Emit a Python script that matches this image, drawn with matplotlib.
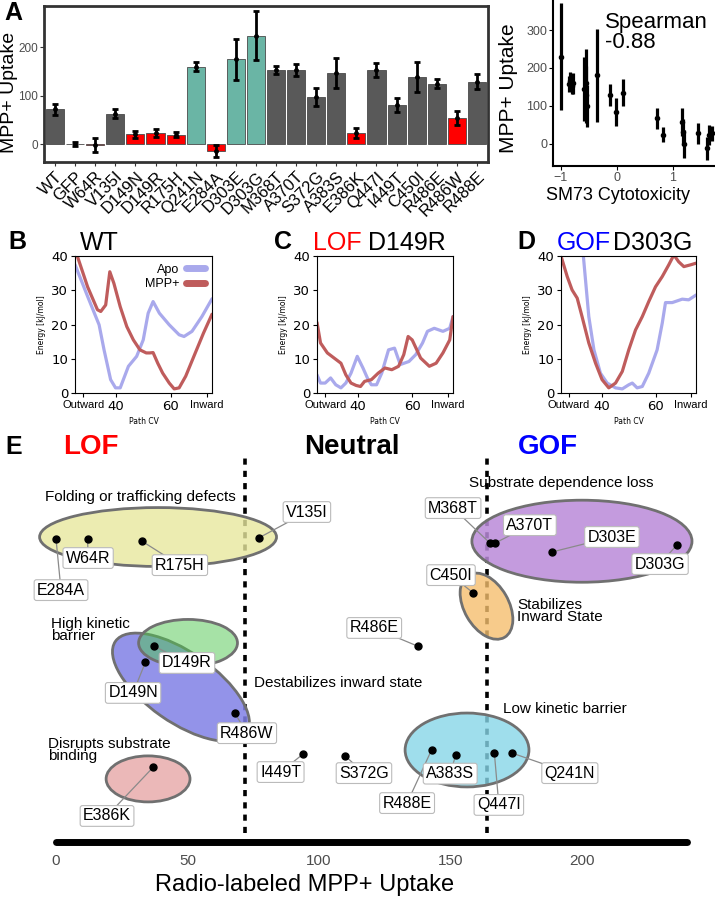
import matplotlib
matplotlib.use('Agg')
import matplotlib.pyplot as plt
from matplotlib.patches import Ellipse
from matplotlib.lines import Line2D
import numpy as np

plt.rcParams['font.family'] = ['Liberation Sans', 'DejaVu Sans']

W, H = 715, 900


def box(l, t, r, b):
    # pixel box -> figure fraction rect
    return [l / W, 1 - b / H, (r - l) / W, (b - t) / H]


# ---------------- panel A data ----------------
mutants = ['WT', 'GFP', 'W64R', 'V135I', 'D149N', 'D149R', 'R175H', 'Q241N',
           'E284A', 'D303E', 'D303G', 'M368T', 'A370T', 'S372G', 'A383S',
           'E386K', 'Q447I', 'I449T', 'C450I', 'R486E', 'R486W', 'R488E']
uptake = [72, 0, -2, 63, 20, 23, 19, 160, -14, 175, 224, 153, 153, 97, 146,
          23, 153, 81, 138, 125, 54, 129]
uptake_err = [11, 5, 14, 10, 8, 8, 5, 9, 12, 42, 50, 9, 13, 19, 31, 10, 15,
              14, 31, 10, 15, 16]
effect = ['neutral', 'neutral', 'lof', 'neutral', 'lof', 'lof', 'lof', 'gof',
          'lof', 'gof', 'gof', 'neutral', 'neutral', 'neutral', 'neutral',
          'lof', 'neutral', 'neutral', 'neutral', 'neutral', 'lof', 'neutral']

# SM73 cytotoxicity vs uptake
cyto = [-0.99, -0.86, -0.83, -0.80, -0.78, -0.58, -0.55, -0.53, -0.56, -0.35,
        -0.125, -0.02, 0.11, 0.71, 0.82, 1.16, 1.18, 1.20, 1.45, 1.61, 1.65, 1.69]
cyto_uptake = [230, 158, 165, 152, 160, 145, 160, 100, 130, 181, 129, 85, 135,
               68, 24, 59, 32, 0, 28, -11, 24, 28]
cyto_err = [140, 22, 25, 20, 28, 85, 90, 55, 75, 122, 28, 37, 36, 28, 20, 37,
            35, 38, 28, 30, 27, 20]

# ---------------- free energy profiles ----------------
wt_apo_cv = [25, 29.6, 33.8, 35.6, 38, 39.8, 41.5, 44.5, 47.5, 49.9, 51.7, 53.5,
             55.8, 59.4, 63, 64.8, 67.7, 71.3, 75]
wt_apo_e = [37.5, 28.2, 19.9, 12.6, 3.9, 1.5, 1.5, 7.8, 10.7, 15.5, 23.3, 26.7,
            23.3, 19.9, 17, 16.5, 18, 22.3, 27.5]
wt_mpp_cv = [25, 29.6, 33.2, 34.4, 36.2, 37.7, 39.2, 41.5, 43.9, 46.3, 48.7, 51,
             52.3, 53.5, 55.2, 57, 59.4, 61.2, 63, 65.4, 68.9, 71.9, 75]
wt_mpp_e = [42, 31, 24.3, 23.8, 25.7, 35.4, 32, 25.2, 19.4, 15.5, 12.6, 11.7,
            11.7, 11.8, 8.7, 5.8, 2.9, 1.2, 1.5, 4.9, 11.7, 17.5, 23]

lof_apo_cv = [25, 26.3, 28, 30, 31.9, 33.8, 35.6, 37.5, 39.8, 41.9, 43.8, 45,
              46.9, 48.8, 51.3, 53.5, 55.6, 58.8, 61.3, 63.8, 65.6, 68.1, 71.3,
              73.8, 75]
lof_apo_e = [5.3, 2.9, 2.9, 4.4, 2.4, 1.5, 2.9, 5.8, 10.7, 7.3, 3.9, 2.4, 2.4,
             5.8, 12.6, 13.1, 8.3, 9.2, 11.2, 14.6, 18, 18.9, 18, 18.9, 22.3]
lof_mpp_cv = [25, 26.3, 28.8, 31.3, 33.8, 35.6, 37.5, 39.4, 41, 42.5, 45, 47.5,
              50, 52.5, 55, 56.9, 58.5, 60, 63.1, 66.3, 68.8, 71.3, 73.8, 75]
lof_mpp_e = [20.6, 14.6, 11.7, 10.2, 8.7, 5.3, 2.9, 2.2, 1.9, 3.4, 3.9, 5.8,
             7.3, 6.8, 7.8, 11.2, 16.5, 15.5, 10.2, 7.8, 8.7, 11.7, 15.5, 22.3]

gof_apo_cv = [32.6, 35.3, 37.2, 39.6, 42.1, 45.2, 47.7, 50.1, 51.4, 53.2, 55.1,
              57.5, 60.6, 62.5, 63.7, 66.2, 69.9, 72.3, 75]
gof_apo_e = [46, 22.3, 12.6, 5.8, 2.9, 1.5, 1.2, 2.4, 2.9, 1.5, 1.9, 5.8, 12.6,
             20.4, 26.4, 26.4, 27.4, 27.2, 28.6]
gof_mpp_cv = [25, 27.3, 29.1, 31, 32.8, 35.3, 37.8, 40.2, 42.7, 45.2, 47.7, 50.1,
              52.6, 55.1, 57.5, 60, 62.5, 64.9, 66.8, 68.6, 70.5, 72.9, 75]
gof_mpp_e = [40, 34, 30.1, 27.7, 22.3, 14.6, 8.7, 3.9, 1.5, 2.9, 6.3, 12.6,
             18.4, 22.3, 26.7, 31, 34, 37.4, 40.3, 38.3, 36.9, 37.4, 37.9]

# ---------------- panel E data ----------------
e_mut = ['E284A', 'W64R', 'R175H', 'V135I', 'D149R', 'D149N', 'R486W', 'E386K',
         'I449T', 'S372G', 'R486E', 'M368T', 'A370T', 'D303E', 'D303G', 'C450I',
         'R488E', 'A383S', 'Q447I', 'Q241N']
e_uptake = [0, 12, 32.7, 77, 37.3, 34, 68, 37, 94, 110, 137.5, 165, 167, 188.6,
            236, 158.7, 142.8, 152, 166.7, 173.5]
e_row = [115.2, 115.2, 114.4, 115.6, 74.5, 68.4, 49.0, 28.5, 33.5, 32.7, 74.5,
         113.7, 113.7, 110.3, 112.9, 94.7, 35.0, 33.1, 33.8, 33.8]
e_label_x = [1.9, 12.2, 47.1, 95.4, 49.8, 29.3, 72.6, 19.4, 85.4, 117.1, 121,
             151, 180.2, 211.4, 229.7, 150.2, 133.5, 149.9, 168.4, 195.4]
e_label_y = [95.8, 108, 105.3, 125.5, 68.1, 56.7, 41.4, 9.9, 26.6, 26.2, 81.4,
             127, 120.5, 116, 105.7, 101.5, 14.8, 26, 14.1, 26.2]
wt_uptake = 72
gof_cut = 164

fig = plt.figure(figsize=(W / 100, H / 100), dpi=100)

# ======================= A: bars =======================
colors = {'neutral': '#595959', 'lof': '#FF0000', 'gof': '#6AB5A5'}
axA = fig.add_axes(box(44, 6, 488, 162))
xs = np.arange(len(mutants))
axA.bar(xs, uptake, width=0.9, color=[colors[e] for e in effect],
        edgecolor='#4a4a4a', linewidth=0.6, zorder=2)
axA.errorbar(xs, uptake, yerr=uptake_err, fmt='o', color='black', ms=2.5,
             elinewidth=2, capsize=2, capthick=2, zorder=3)
axA.set_xlim(-0.55, len(mutants) - 0.45)
axA.set_ylim(-37, 285)
axA.set_yticks([0, 100, 200])
axA.set_xticks(xs)
axA.set_xticklabels(mutants, rotation=45, ha='right', rotation_mode='anchor',
                    fontsize=12)
axA.tick_params(axis='y', labelsize=8.5, labelcolor='#4D4D4D', color='#333333',
                length=3, pad=1.5)
axA.tick_params(axis='x', color='#333333', length=3, pad=2)
for s in axA.spines.values():
    s.set_color('#333333')
    s.set_linewidth(2)
fig.text(10 / W, 1 - 92 / H, 'MPP+ Uptake', rotation=90, ha='center',
         va='center', fontsize=14)

# ======================= A: scatter =======================
axS = fig.add_axes(box(553, 0, 715, 166))
axS.errorbar(cyto, cyto_uptake, yerr=cyto_err, fmt='o', color='black', ms=3,
             elinewidth=2.3, capsize=0)
axS.set_xlim(-1.14, 1.75)
axS.set_ylim(-58, 379)
axS.set_xticks([-1, 0, 1])
axS.set_yticks([0, 100, 200, 300])
axS.spines['top'].set_visible(False)
axS.spines['right'].set_visible(False)
for s in ['left', 'bottom']:
    axS.spines[s].set_linewidth(1.5)
axS.tick_params(labelsize=9, labelcolor='#4D4D4D', length=3, pad=1)
axS.text(0.32, 0.93, 'Spearman\n-0.88', transform=axS.transAxes, fontsize=16,
         va='top', ha='left', linespacing=0.95)
fig.text(508 / W, 1 - 88 / H, 'MPP+ Uptake', rotation=90, ha='center',
         va='center', fontsize=15)
fig.text(618 / W, 1 - 196 / H, 'SM73 Cytotoxicity', ha='center', va='center',
         fontsize=13)

# ======================= B, C, D =======================
apo_col = '#A9A9EC'
mpp_col = '#BF5C5C'
energy = [
    (box(75, 256, 212, 393), wt_apo_cv, wt_apo_e, wt_mpp_cv, wt_mpp_e),
    (box(317, 256, 453, 393), lof_apo_cv, lof_apo_e, lof_mpp_cv, lof_mpp_e),
    (box(561, 256, 696, 393), gof_apo_cv, gof_apo_e, gof_mpp_cv, gof_mpp_e),
]
for i, (rect, acv, ae, mcv, me) in enumerate(energy):
    ax = fig.add_axes(rect)
    ax.plot(acv, ae, color=apo_col, lw=2.3, solid_capstyle='round')
    ax.plot(mcv, me, color=mpp_col, lw=2.3, solid_capstyle='round')
    ax.set_xlim(25, 75)
    ax.set_ylim(0, 40)
    ax.set_yticks([0, 10, 20, 30, 40])
    ax.set_xticks([28, 40, 60, 73])
    ax.set_xticklabels(['Outward', '40', '60', 'Inward'])
    ax.tick_params(labelsize=9.5, length=3, pad=2)
    for k in (0, 3):
        ax.get_xticklabels()[k].set_fontsize(8)
    for t in ax.get_xticklabels()[1:3] + ax.get_yticklabels():
        t.set_family('DejaVu Sans')
    ax.set_ylabel('Energy [kJ/mol]', fontsize=5.5, family='DejaVu Sans', labelpad=4)
    ax.set_xlabel('Path CV', fontsize=5.5, family='DejaVu Sans', labelpad=3)
    if i == 0:
        hs = [Line2D([], [], color=apo_col, lw=5, solid_capstyle='round'),
              Line2D([], [], color=mpp_col, lw=5, solid_capstyle='round')]
        ax.legend(hs, ['Apo', 'MPP+'], loc='upper right', frameon=False,
                  markerfirst=False, fontsize=9, handlelength=1.5,
                  borderaxespad=0.2, labelspacing=0.2, handletextpad=0.5)

fig.text(80 / W, 1 - 243 / H, 'WT', fontsize=18, va='center')
fig.text(313 / W, 1 - 243 / H, 'LOF', fontsize=18, va='center', color='#FF0000')
fig.text(368 / W, 1 - 243 / H, 'D149R', fontsize=18, va='center')
fig.text(557 / W, 1 - 243 / H, 'GOF', fontsize=18, va='center', color='#0000FF')
fig.text(613 / W, 1 - 243 / H, 'D303G', fontsize=18, va='center')

# ======================= E =======================
axE = fig.add_axes(box(30, 425, 710, 847))
axE.set_xlim(-9.9, 248.7)
axE.set_ylim(-1.9, 158.6)
for s in axE.spines.values():
    s.set_visible(False)
axE.set_yticks([])
axE.set_xticks([0, 50, 100, 150, 200])
axE.tick_params(axis='x', length=0, pad=5, labelsize=11, labelcolor='#4D4D4D')
axE.plot([0, 240], [0, 0], color='black', lw=5, solid_capstyle='round', zorder=1)
for xv in (wt_uptake, gof_cut):
    axE.plot([xv, xv], [3.4, 148], color='black', lw=2.6, ls=(0, (1.7, 1.7)),
             zorder=1)

edge = '#707070'
groups = [
    # (xy, width, height, angle, face)
    ((38.8, 116), 90.1, 22.4, 0, (0.91, 0.91, 0.62, 0.8)),
    ((47.5, 58.9), 60.8, 26.6, -35, (0.50, 0.50, 0.90, 0.85)),
    ((50.2, 75.7), 37.6, 17.9, 0, (0.31, 0.78, 0.31, 0.5)),
    ((35, 24), 31.9, 17.5, 0, (0.90, 0.65, 0.65, 0.8)),
    ((200, 114.4), 83.7, 31.2, 0, (0.73, 0.54, 0.85, 0.85)),
    ((163.7, 89.7), 27.4, 16.9, -60, (0.96, 0.75, 0.43, 0.8)),
    ((156.3, 35), 47.1, 28.1, 0, (0.53, 0.84, 0.91, 0.8)),
]
for xy, w, h, ang, fc in groups:
    axE.add_patch(Ellipse(xy, w, h, angle=ang, facecolor=fc, edgecolor=edge,
                          lw=2, zorder=2))

for m, xv, yv, lx, ly in zip(e_mut, e_uptake, e_row, e_label_x, e_label_y):
    axE.plot([xv, lx], [yv, ly], color='#8a8a8a', lw=0.9, zorder=3)
    axE.text(lx, ly, m, ha='center', va='center', fontsize=11.5, zorder=5,
             bbox=dict(boxstyle='round,pad=0.18,rounding_size=0.15', fc='white',
                       ec='#BBBBBB', lw=0.8))
axE.plot(e_uptake, e_row, 'o', color='black', ms=5, zorder=4)

gtxt = dict(fontsize=11, zorder=6, linespacing=0.85)
axE.text(31.9, 131.2, 'Folding or trafficking defects', ha='center', va='center', **gtxt)
axE.text(-1.9, 80.6, 'High kinetic\nbarrier', ha='left', va='center', **gtxt)
axE.text(75.3, 60.5, 'Destabilizes inward state', ha='left', va='center', **gtxt)
axE.text(-3, 35, 'Disrupts substrate\nbinding', ha='left', va='center', **gtxt)
axE.text(192, 136.5, 'Substrate dependence loss', ha='center', va='center', **gtxt)
axE.text(175.3, 87.8, 'Stabilizes\nInward State', ha='left', va='center', **gtxt)
axE.text(170, 50.6, 'Low kinetic barrier', ha='left', va='center', **gtxt)

axE.text(13.3, 150.2, 'LOF', color='#FF0000', fontsize=20, fontweight='bold',
         ha='center', va='center')
axE.text(112.5, 150.2, 'Neutral', color='black', fontsize=20, fontweight='bold',
         ha='center', va='center')
axE.text(187, 150.2, 'GOF', color='#0000FF', fontsize=20, fontweight='bold',
         ha='center', va='center')

fig.text(305 / W, 1 - 885 / H, 'Radio-labeled MPP+ Uptake', ha='center',
         va='center', fontsize=17)

# panel letters
for lab, px, py in [('A', 4, 13), ('B', 8, 242), ('C', 274, 242),
                    ('D', 517, 242), ('E', 5, 447)]:
    fig.text(px / W, 1 - py / H, lab, fontsize=18, fontweight='bold',
             ha='left', va='center')

fig.savefig('out.png', dpi=100)
